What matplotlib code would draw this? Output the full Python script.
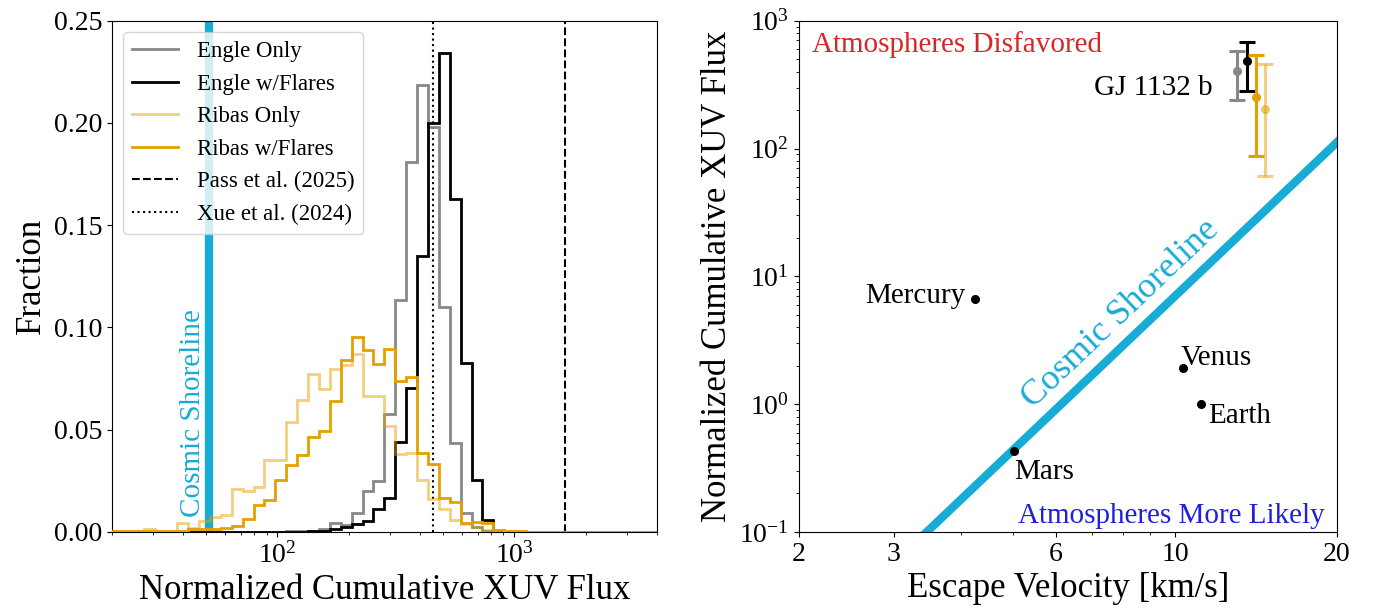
import numpy as np
import matplotlib
matplotlib.use("Agg")
import matplotlib.pyplot as plt
from matplotlib.ticker import FixedLocator, NullFormatter, FuncFormatter

plt.rcParams['font.family'] = ['Liberation Serif', 'DejaVu Serif']
plt.rcParams['mathtext.fontset'] = 'stix'

# ---------------- data ----------------
# histogram bins (log-spaced normalized cumulative XUV flux)
flux_min, flux_max, n_bins = 20.0, 4000.0, 50

engle_only = [0, 0, 0, 0, 0, 0, 0, 0, 0, 0,
              0, 0, 0, 0, 0, 0, 0.0003, 0.0003, 0.0007, 0.0013,
              0.0046, 0.0034, 0.0095, 0.0202, 0.0251, 0.0576, 0.1135, 0.1807, 0.2187, 0.1980,
              0.1100, 0.0434, 0.0095, 0.0026, 0.0007, 0, 0, 0, 0, 0,
              0, 0, 0, 0, 0, 0, 0, 0, 0, 0]
engle_flares = [0, 0, 0, 0, 0, 0, 0, 0, 0, 0,
                0, 0, 0, 0, 0, 0, 0, 0.0002, 0.0003, 0.0003,
                0.0013, 0.0026, 0.0039, 0.0055, 0.0111, 0.0165, 0.0442, 0.0703, 0.1347, 0.2000,
                0.2342, 0.1628, 0.0825, 0.0254, 0.0059, 0.0007, 0, 0, 0, 0,
                0, 0, 0, 0, 0, 0, 0, 0, 0, 0]
ribas_only = [0.0003, 0.0007, 0.0007, 0.0013, 0.0007, 0.0007, 0.0046, 0.0018, 0.0055, 0.0075,
              0.0085, 0.0209, 0.0199, 0.0220, 0.0352, 0.0352, 0.0540, 0.0646, 0.0773, 0.0700,
              0.0796, 0.0817, 0.0871, 0.0665, 0.0665, 0.0519, 0.0382, 0.0388, 0.0254, 0.0160,
              0.0111, 0.0059, 0.0039, 0.0026, 0.0010, 0.0008, 0.0007, 0.0003, 0, 0,
              0, 0, 0, 0, 0, 0, 0, 0, 0, 0]
ribas_flares = [0.0003, 0.0003, 0.0007, 0.0007, 0.0003, 0.0007, 0.0007, 0.0013, 0.0013, 0.0015,
                0.0018, 0.0030, 0.0062, 0.0132, 0.0157, 0.0256, 0.0326, 0.0377, 0.0465, 0.0492,
                0.0640, 0.0841, 0.0952, 0.0888, 0.0823, 0.0895, 0.0740, 0.0757, 0.0385, 0.0330,
                0.0168, 0.0148, 0.0042, 0.0047, 0.0042, 0.0010, 0.0007, 0.0003, 0, 0,
                0, 0, 0, 0, 0, 0, 0, 0, 0, 0]

shoreline_flux_gj1132b = 51.6
pass_2025 = 1630.0
xue_2024 = 456.0

# solar system planets: escape velocity [km/s], normalized XUV flux
planet_names = ["Mercury", "Venus", "Earth", "Mars"]
planet_vesc = [4.25, 10.36, 11.19, 5.03]
planet_flux = [6.67, 1.91, 1.00, 0.43]

# GJ 1132 b estimates (slightly offset in escape velocity for clarity)
gj_labels = ["Engle Only", "Engle w/Flares", "Ribas Only", "Ribas w/Flares"]
gj_vesc = [13.06, 13.60, 14.68, 14.14]
gj_flux = [403.0, 484.0, 202.0, 255.0]
gj_flux_lo = [238.0, 281.0, 61.0, 87.0]
gj_flux_hi = [581.0, 676.0, 461.0, 543.0]

# cosmic shoreline: I_xuv ∝ v_esc^4
shoreline_power = 4.0
shoreline_vref = 6.15

# ---------------- style ----------------
c_shore = '#17acd6'
c_orange = '#E69F00'
colors = {"Engle Only": ('#888888', 1.0),
          "Engle w/Flares": ('black', 1.0),
          "Ribas Only": (c_orange, 0.5),
          "Ribas w/Flares": (c_orange, 1.0)}

fig = plt.figure(figsize=(13.8, 6.16), dpi=100)
ax1 = fig.add_axes([0.081, 0.1364, 0.395, 0.830])
ax2 = fig.add_axes([0.5788, 0.1364, 0.390, 0.830])

# ---------------- left: histograms ----------------
edges = np.logspace(np.log10(flux_min), np.log10(flux_max), n_bins + 1)
ax1.axvline(shoreline_flux_gj1132b, color=c_shore, lw=6, zorder=1)
for lab, vals in zip(gj_labels, [engle_only, engle_flares, ribas_only, ribas_flares]):
    col, al = colors[lab]
    ax1.stairs(vals, edges, color=col, alpha=al, lw=2, label=lab, zorder=3)
ax1.axvline(pass_2025, color='black', ls='--', lw=1.5, label='Pass et al. (2025)', zorder=2)
ax1.axvline(xue_2024, color='black', ls=':', lw=1.5, label='Xue et al. (2024)', zorder=2)
ax1.text(shoreline_flux_gj1132b * 0.965, 0.0075, "Cosmic Shoreline", rotation=90,
         ha='right', va='bottom', color=c_shore, fontsize=21)

ax1.set_xscale('log')
ax1.set_xlim(flux_min, flux_max)
ax1.set_ylim(0, 0.25)
ax1.set_yticks(np.arange(0, 0.2501, 0.05))
ax1.yaxis.set_major_formatter(FuncFormatter(lambda v, p: f"{v:.2f}"))
ax1.tick_params(labelsize=20)
ax1.set_xlabel("Normalized Cumulative XUV Flux", fontsize=25)
ax1.set_ylabel("Fraction", fontsize=25)
ax1.legend(loc='upper left', fontsize=16.5, handlelength=2.0)

# ---------------- right: escape velocity vs XUV flux ----------------
ax2.set_xscale('log')
ax2.set_yscale('log')
ax2.set_xlim(2, 20)
ax2.set_ylim(0.1, 1000)

v_line = np.array([2.0, 20.0])
ax2.plot(v_line, (v_line / shoreline_vref) ** shoreline_power, color=c_shore, lw=6, zorder=1)

ax2.plot(planet_vesc, planet_flux, 'o', color='black', ms=5.5, zorder=3)
offsets = {"Mercury": ((-7, 2), 'right', 'center'),
           "Venus": ((-2, 2), 'left', 'baseline'),
           "Earth": ((5, 1), 'left', 'top'),
           "Mars": ((0, -6), 'left', 'top')}
for name, v, f in zip(planet_names, planet_vesc, planet_flux):
    off, ha, va = offsets[name]
    ax2.annotate(name, (v, f), xytext=off, textcoords='offset points',
                 ha=ha, va=va, fontsize=21)

for lab, v, f, lo, hi in zip(gj_labels, gj_vesc, gj_flux, gj_flux_lo, gj_flux_hi):
    col, al = colors[lab]
    ax2.errorbar([v], [f], yerr=[[f - lo], [hi - f]], fmt='o', color=col, alpha=al,
                 ms=5.5, capsize=6, capthick=2.2, elinewidth=2.2, zorder=4)
ax2.text(11.75, 295, "GJ 1132 b", ha='right', va='center', fontsize=21)

ax2.text(0.025, 0.953, "Atmospheres Disfavored", transform=ax2.transAxes,
         ha='left', va='center', color='#d62728', fontsize=21)
ax2.text(0.977, 0.031, "Atmospheres More Likely", transform=ax2.transAxes,
         ha='right', va='center', color='#1f1fe0', fontsize=21)

ax2.xaxis.set_major_locator(FixedLocator([2, 3, 6, 10, 20]))
ax2.xaxis.set_major_formatter(FuncFormatter(lambda v, p: f"{v:g}"))
ax2.xaxis.set_minor_locator(FixedLocator([4, 5, 7, 8, 9]))
ax2.xaxis.set_minor_formatter(NullFormatter())
ax2.tick_params(labelsize=20)
ax2.set_xlabel("Escape Velocity [km/s]", fontsize=25)
ax2.set_ylabel("Normalized Cumulative XUV Flux", fontsize=25)

# rotate the shoreline label to follow the line on screen
fig.canvas.draw()
p0 = ax2.transData.transform((4.0, (4.0 / shoreline_vref) ** shoreline_power))
p1 = ax2.transData.transform((12.0, (12.0 / shoreline_vref) ** shoreline_power))
ang = np.degrees(np.arctan2(p1[1] - p0[1], p1[0] - p0[0]))
ax2.text(7.94, 5.08, "Cosmic Shoreline", rotation=ang, rotation_mode='anchor',
         ha='center', va='center', color=c_shore, fontsize=26)

fig.savefig("out.png", dpi=100)
